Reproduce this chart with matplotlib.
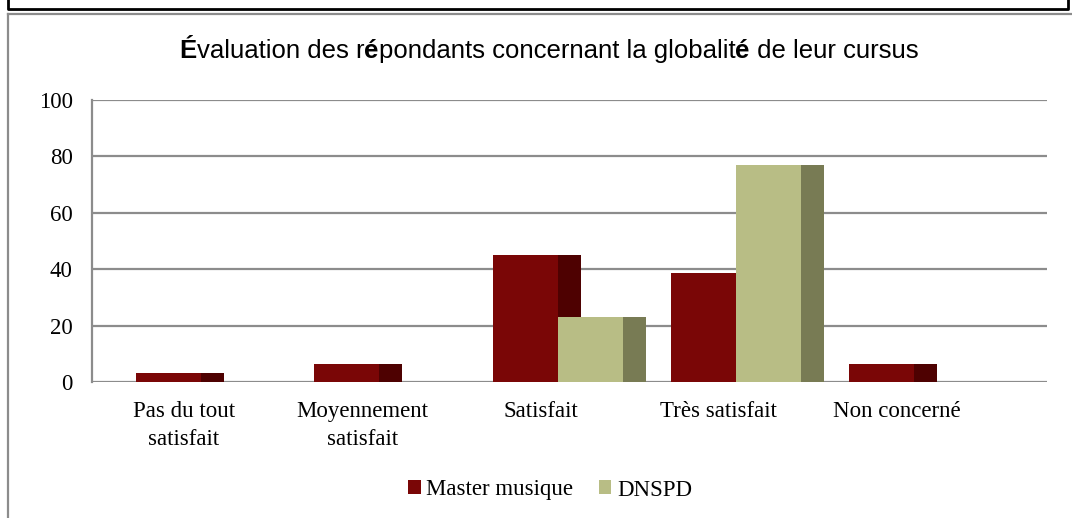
import matplotlib
matplotlib.use("Agg")
import matplotlib.pyplot as plt
from matplotlib.lines import Line2D
from matplotlib.patches import Patch
from matplotlib.offsetbox import TextArea, HPacker, AnchoredOffsetbox
import numpy as np

# ---- data ----
categories = ["Pas du tout\nsatisfait", "Moyennement\nsatisfait", "Satisfait",
              "Très satisfait", "Non concerné"]
master = [3.2, 6.5, 45.2, 38.7, 6.5]
dnspd = [0.0, 0.0, 23.1, 76.9, 0.0]
series_names = ["Master musique", "DNSPD"]
yticks = [0, 20, 40, 60, 80, 100]

# ---- styles ----
master_front, master_side = "#7A0606", "#4E0101"
dnspd_front, dnspd_side = "#B8BD85", "#787B54"
grid_col = "#8C8C8C"
serif = ["Liberation Serif", "DejaVu Serif"]
title_font = ["Liberation Sans", "DejaVu Sans"]
lab_size = 16.5

W, H = 1072, 518
fig = plt.figure(figsize=(W / 100, H / 100), dpi=100)
fig.patch.set_facecolor("white")

px = lambda x: x / W
py = lambda y: 1 - y / H

ax = fig.add_axes([px(92), py(382), px(1047) - px(92), py(100) - py(382)])
x = np.arange(len(categories))

front_w, side_w = 0.365, 0.129
m_off = -0.269
d_off = m_off + front_w

ax.bar(x + m_off, master, width=front_w, align="edge", color=master_front, zorder=3, linewidth=0)
ax.bar(x + m_off + front_w, master, width=side_w, align="edge", color=master_side, zorder=3, linewidth=0)
ax.bar(x + d_off, dnspd, width=front_w, align="edge", color=dnspd_front, zorder=4, linewidth=0)
ax.bar(x + d_off + front_w, dnspd, width=side_w, align="edge", color=dnspd_side, zorder=4, linewidth=0)

ax.set_xlim(-0.516, 4.841)
ax.set_ylim(0, 100)
ax.set_yticks(yticks)
ax.set_yticklabels([str(v) for v in yticks], fontfamily=serif, fontsize=lab_size, color="black")
ax.set_xticks(x)
ax.set_xticklabels(categories, fontfamily=serif, fontsize=lab_size, color="black", linespacing=1.4)
ax.tick_params(axis="both", length=0)
ax.tick_params(axis="y", pad=14)
ax.tick_params(axis="x", pad=14)

ax.yaxis.grid(True, color=grid_col, linewidth=1.6, zorder=1)
ax.set_axisbelow(True)
for s in ["top", "right", "bottom"]:
    ax.spines[s].set_visible(False)
ax.spines["left"].set_color(grid_col)
ax.spines["left"].set_linewidth(1.6)

# ---- title with bold accented letters ----
parts = [("É", "bold"), ("valuation des r", "normal"), ("é", "bold"),
         ("pondants concernant la globalit", "normal"), ("é", "bold"),
         (" de leur cursus", "normal")]
areas = [TextArea(t, textprops=dict(fontsize=18.5, fontweight=w, family=title_font, color="black"))
         for t, w in parts]
box = HPacker(children=areas, align="baseline", pad=0, sep=0)
anch = AnchoredOffsetbox(loc="center", child=box, pad=0, borderpad=0, frameon=False,
                         bbox_to_anchor=(px(549), py(51)), bbox_transform=fig.transFigure)
fig.add_artist(anch)

# ---- legend ----
handles = [Patch(facecolor=master_front, edgecolor="none"),
           Patch(facecolor=dnspd_front, edgecolor="none")]
fig.legend(handles, series_names, loc="center", bbox_to_anchor=(px(550), py(490)),
           ncol=2, frameon=False, prop=dict(family=serif, size=lab_size),
           handlelength=0.55, handleheight=0.55, handletextpad=0.25, columnspacing=1.1)

# ---- frame lines ----
fig.add_artist(Line2D([px(8), px(1072)], [py(14), py(14)], color=grid_col, lw=1.6, transform=fig.transFigure))
fig.add_artist(Line2D([px(8), px(8)], [py(14), py(518)], color=grid_col, lw=1.6, transform=fig.transFigure))
fig.add_artist(Line2D([px(8), px(8), px(1068), px(1068)], [py(0), py(9), py(9), py(0)],
                      color="black", lw=2, transform=fig.transFigure))

fig.savefig("out.png", dpi=100, facecolor="white")
